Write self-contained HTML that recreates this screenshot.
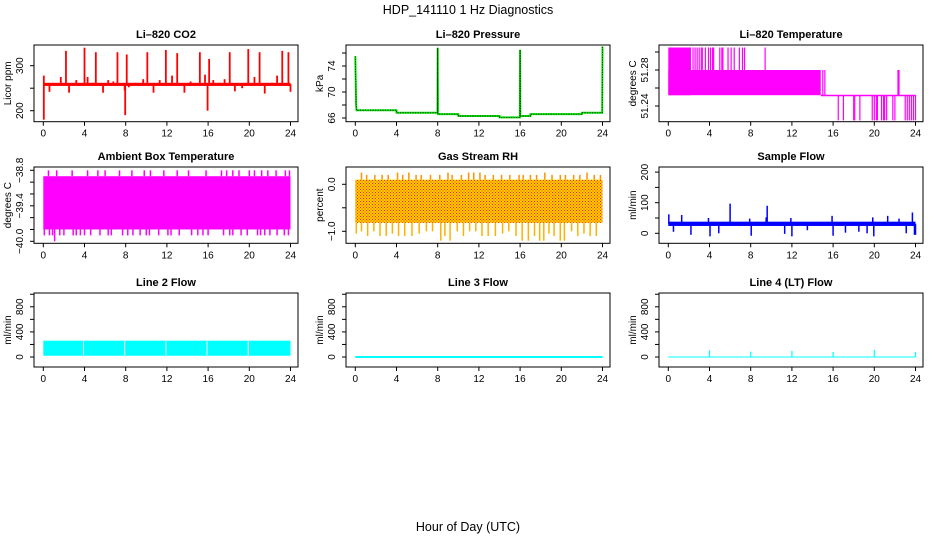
<!DOCTYPE html>
<html><head><meta charset="utf-8"><style>
html,body{margin:0;padding:0;background:#fff;}
svg{display:block;font-family:"Liberation Sans",sans-serif;}
</style></head><body>
<svg id="chart" width="936" height="540" viewBox="0 0 936 540" xmlns="http://www.w3.org/2000/svg">
<defs>
<pattern id="rhpat" width="3" height="3" patternUnits="userSpaceOnUse">
<rect width="3" height="3" fill="#ffd000"/><rect x="0" y="0" width="1" height="1" fill="#ff2000"/><rect x="1.5" y="1.5" width="1" height="1" fill="#ff2000"/>
</pattern>
</defs>
<text x="468" y="14" font-size="12.5" text-anchor="middle">HDP_141110  1 Hz Diagnostics</text>
<text x="468" y="531" font-size="12.5" text-anchor="middle">Hour of Day (UTC)</text>
</svg>
<script>
// ---- data ----
const hourTicks = [0,4,8,12,16,20,24];
// CO2
const co2Base = [255, 262];
const co2SpikeHours = [0.05,0.05,0.6,1.7,2.2,2.5,3.2,3.5,4.0,4.3,4.8,5.1,5.8,6.3,6.8,7.2,7.9,7.95,8.1,8.3,9.0,9.7,10.1,10.7,11.3,11.9,12.5,13.0,13.7,14.3,14.8,15.2,15.7,15.95,16.1,16.5,17.2,17.6,18.1,18.6,19.3,19.9,20.5,21.0,21.5,22.2,22.7,23.2,23.8,24.0];
const co2SpikeValues = [180,278,242,275,333,240,268,255,340,275,262,330,240,268,265,330,245,190,325,252,262,270,330,240,268,335,278,328,240,265,258,330,280,200,315,268,262,270,330,243,250,337,275,330,238,262,278,333,330,242];
// Pressure
const presHours = [0,0.05,0.08,0.12,0.15,4,4.01,7.98,8.0,8.02,10,10.01,14,14.01,15.98,16.0,16.02,17,17.01,22,22.01,23.97,24.0];
const presValues = [75.5,71,68,67.2,67.2,67.2,66.8,66.8,76.8,66.6,66.6,66.3,66.3,66.1,66.1,76.5,66.3,66.3,66.6,66.6,66.8,66.8,77];
// Li-820 temperature
const tempBands = [[0,14.8,51.252,51.28],[0,2.2,51.252,51.305],[14.8,24,51.252,51.2525]];
const tempUpHours = [2.4,2.6,2.8,3.0,3.2,3.3,3.6,3.9,4.1,4.3,4.4,5.0,5.2,5.3,5.8,6.1,6.4,6.9,7.2,7.4,9.4];
const tempMidHours = [15.0,15.2,22.3,22.4];
const tempDownHours = [16.5,17.0,18.0,18.1,18.6,19.8,20.0,20.2,20.3,20.7,20.9,21.0,21.2,21.8,22.0,23.0,23.2,23.4,23.6,23.8,24.0];
// Ambient box temperature
const ambBand = [-39.8, -38.9];
const ambUpHours = [0.5,1.3,2.8,4.3,5.3,6.0,7.4,8.6,9.8,10.4,11.7,13.0,14.1,15.8,17.3,17.8,18.4,19.0,20.0,20.5,21.2,21.8,22.6,23.5,23.9];
const ambDownHours = [0.1,0.6,0.9,1.6,2.0,2.9,3.2,3.6,4.0,4.6,5.5,6.3,6.6,7.7,8.2,8.7,9.4,10.0,10.3,11.2,12.1,12.4,13.2,14.4,15.0,15.5,16.0,17.5,18.1,18.4,19.2,19.8,20.8,21.1,21.5,22.0,22.7,23.4,23.8];
const ambLowHours = [1.1];
// Gas stream RH
const rhBand = [-0.82, 0.1];
const rhUpHours = [0.6,1.1,1.9,2.6,3.2,4.1,4.6,5.2,5.9,6.4,7.3,8.2,9.0,9.4,10.3,11.0,11.5,12.1,12.6,13.4,14.2,15.0,15.9,16.3,17.0,17.6,18.4,19.1,19.9,20.4,21.2,21.8,22.5,23.2,23.8];
const rhUpValues = [0.25,0.2,0.2,0.2,0.2,0.25,0.2,0.25,0.2,0.2,0.2,0.2,0.25,0.2,0.2,0.25,0.25,0.25,0.2,0.2,0.2,0.2,0.2,0.2,0.2,0.2,0.25,0.2,0.2,0.2,0.2,0.2,0.25,0.2,0.2];
const rhDownHours = [0.1,0.6,1.2,1.8,2.4,3.0,3.6,4.2,4.8,5.5,6.2,6.9,7.5,8.3,8.7,9.2,9.9,10.5,11.1,11.7,12.3,12.9,13.6,14.3,14.9,15.6,16.2,16.8,17.4,17.9,18.3,18.8,19.3,19.9,20.3,21.0,21.6,22.2,22.8,23.4];
const rhDownValues = [-1.05,-1.0,-1.1,-1.0,-1.1,-1.1,-1.05,-1.1,-1.1,-1.1,-1.05,-1.0,-1.0,-1.2,-1.1,-1.2,-1.0,-1.1,-1.0,-1.0,-1.1,-1.1,-1.1,-1.05,-1.0,-1.1,-1.2,-1.2,-1.1,-1.2,-1.2,-1.05,-1.1,-1.2,-1.2,-1.0,-1.1,-1.05,-1.1,-1.1];
// Sample flow
const sfBand = [24, 38];
const sfSpikeHours = [0.05,0.5,1.3,2.2,3.9,4.05,4.9,6.0,7.9,8.05,9.5,9.6,11.3,11.9,12.0,13.5,15.9,16.0,17.2,18.5,19.3,19.85,19.95,21.3,22.4,23.1,23.7,23.9,24.0];
const sfSpikeValues = [62,5,60,-5,50,-10,0,97,48,-8,52,90,-2,50,-10,10,57,-8,2,5,0,52,-10,57,48,0,68,-5,-5];
// Line 2 flow
const l2Band = [20, 260];
const l2GapHours = [4,8,12,16,20];
// Line 3 flow
const l3Hours = [0, 24];
const l3Values = [0, 0];
// Line 4 flow
const l4SpikeHours = [4,8,12,16,20,24];
const l4SpikeValues = [105,85,100,80,115,80];

// ---- layout ----
const NS = "http://www.w3.org/2000/svg";
const svg = document.getElementById('chart');
const cols = [34, 346, 659];
const rows = [[45,121.7],[167,243.3],[293,367]];
function mk(tag, attrs, parent){ const e=document.createElementNS(NS,tag); for(const k in attrs) e.setAttribute(k,attrs[k]); (parent||svg).appendChild(e); return e; }
function xScale(L){ return h => L + 9.3 + h*10.3; }
function yLin(y1,v1,y2,v2){ return v => y1 + (v-v1)*(y2-y1)/(v2-v1); }

function panel(ci, ri, title, ylab, sy, ticks, labels, name){
  const L=cols[ci], R=L+264, T=rows[ri][0], B=rows[ri][1];
  const g = mk('g',{});
  
  
  const sx = xScale(L);
  const plot = mk('g',{}, g);
  
  
  const axes = mk('g',{}, g);
  const box = mk('rect',{x:L,y:T,width:R-L,height:B-T,fill:'none',stroke:'#000','stroke-width':1}, axes);
  
  
  hourTicks.forEach(h=>{
    const x=sx(h);
    mk('line',{x1:x,x2:x,y1:B,y2:B+4,stroke:'#000'}, axes);
    const t=mk('text',{x:x,y:B+15,'font-size':10,'text-anchor':'middle'}, axes);
    t.textContent=h;
    
    
  });
  ticks.forEach((v,i)=>{
    const y=sy(v);
    mk('line',{x1:L-4,x2:L,y1:y,y2:y,stroke:'#000'}, axes);
    if(labels[i]!==''){
      const t=mk('text',{x:0,y:0,'font-size':10,'text-anchor':'middle',transform:`translate(${L-11},${y}) rotate(-90)`}, axes);
      t.textContent=labels[i];
      
      
    }
  });
  const tt=mk('text',{x:(L+R)/2,y:T-7,'font-size':11,'font-weight':'bold','text-anchor':'middle'}, axes);
  tt.textContent=title;
  
  
  const yl=mk('text',{x:0,y:0,'font-size':10,'text-anchor':'middle',transform:`translate(${L-23},${(T+B)/2}) rotate(-90)`}, axes);
  yl.textContent=ylab;
  
  
  return {sx, sy, g:plot};
}
function vline(p, h, v1, v2, color, w){
  const x=p.sx(h);
  return mk('line',{x1:x,x2:x,y1:p.sy(v1),y2:p.sy(v2),stroke:color,'stroke-width':w||1.2}, p.g);
}
function band(p, h1, h2, v1, v2, fill){
  const a=p.sy(v1), b=p.sy(v2);
  return mk('rect',{x:p.sx(h1),y:Math.min(a,b),width:p.sx(h2)-p.sx(h1),height:Math.max(Math.abs(a-b),1.5),fill:fill}, p.g);
}

// CO2
const pCO2 = panel(0,0,'Li\u2013820 CO2','Licor ppm', yLin(65.7,300,110.7,200), [200,250,300], ['200','','300'], 'co2');
band(pCO2, 0, 24, co2Base[0], co2Base[1], '#ff0000');
co2SpikeHours.forEach((h,i)=>{ const e=vline(pCO2,h,259,co2SpikeValues[i],'#ff0000',1.8);  });

// Pressure
const pP = panel(1,0,'Li\u2013820 Pressure','kPa', yLin(92,70,118,66), [66,68,70,72,74,76], ['66','','70','','74',''], 'pressure');
const ppts = presHours.map((h,i)=>pP.sx(h)+','+pP.sy(presValues[i])).join(' ');
const pl = mk('polyline',{points:ppts,fill:'none',stroke:'#00e000','stroke-width':2}, pP.g);

const pl2 = mk('polyline',{points:ppts,fill:'none',stroke:'#000','stroke-width':0.8,'stroke-dasharray':'1,1.5'}, pP.g);


// Li-820 temperature
const pT = panel(2,0,'Li\u2013820 Temperature','degrees C', yLin(70,51.28,106,51.24), [51.24,51.26,51.28,51.30], ['51.24','','51.28',''], 'li820-temp');
tempBands.forEach(b=>{ const e=band(pT,b[0],b[1],b[2],b[3],'#ff00ff');  });
tempUpHours.forEach(h=>{ const e=vline(pT,h,51.28,51.305,'#ff00ff',1.2);  });
tempMidHours.forEach(h=>{ const e=vline(pT,h,51.252,51.28,'#ff00ff',1.2);  });
tempDownHours.forEach(h=>{ const e=vline(pT,h,51.252,51.224,'#ff00ff',1.2);  });

// Ambient
const pA = panel(0,1,'Ambient Box Temperature','degrees C', yLin(170.3,-38.8,241.3,-40.0), [-40,-39.8,-39.6,-39.4,-39.2,-39,-38.8], ['\u221240.0','','','\u221239.4','','','\u221238.8'], 'ambient-temp');
band(pA, 0, 24, ambBand[0], ambBand[1], '#ff00ff');
ambUpHours.forEach(h=>{ const e=vline(pA,h,-38.9,-38.8,'#ff00ff',1.5);  });
ambDownHours.forEach(h=>{ const e=vline(pA,h,-39.8,-39.9,'#ff00ff',1.5);  });
ambLowHours.forEach(h=>{ const e=vline(pA,h,-39.8,-40.0,'#ff00ff',1.5);  });

// Gas stream RH
const pR = panel(1,1,'Gas Stream RH','percent', yLin(184.3,0,231.3,-1.0), [-1.0,-0.5,0.0], ['\u22121.0','','0.0'], 'gas-rh');
band(pR, 0, 24, rhBand[0], rhBand[1], 'url(#rhpat)');
rhUpHours.forEach((h,i)=>{ const e=vline(pR,h,0.1,rhUpValues[i],'#ff9000',1.5);  });
rhDownHours.forEach((h,i)=>{ const e=vline(pR,h,-0.82,rhDownValues[i],'#ffb000',1.5);  });

// Sample flow
const pS = panel(2,1,'Sample Flow','ml/min', yLin(233.3,0,202.7,100), [0,50,100,150,200], ['0','','100','','200'], 'sample-flow');
band(pS, 0, 24, sfBand[0], sfBand[1], '#0000ff');
sfSpikeHours.forEach((h,i)=>{ const e=vline(pS,h,31,sfSpikeValues[i],'#0000ff',1.5);  });

// Line 2
const yFlow = yLin(357,0,306.8,800);
const fT=[0,200,400,600,800,1000], fL=['0','','400','','800',''];
const p2 = panel(0,2,'Line 2 Flow','ml/min', yFlow, fT, fL, 'line2-flow');
band(p2, 0, 24, l2Band[0], l2Band[1], '#00ffff');
l2GapHours.forEach(h=>{ const e=vline(p2,h-0.1,l2Band[0]+5,l2Band[1]-5,'#ffffff',1);  });

// Line 3
const p3 = panel(1,2,'Line 3 Flow','ml/min', yFlow, fT, fL, 'line3-flow');
const l3 = mk('polyline',{points:l3Hours.map((h,i)=>p3.sx(h)+','+p3.sy(l3Values[i])).join(' '),fill:'none',stroke:'#00ffff','stroke-width':2}, p3.g);


// Line 4
const p4 = panel(2,2,'Line 4 (LT) Flow','ml/min', yFlow, fT, fL, 'line4-flow');
const l4 = mk('line',{x1:p4.sx(0),x2:p4.sx(24),y1:p4.sy(0),y2:p4.sy(0),stroke:'#00ffff','stroke-width':1}, p4.g);

l4SpikeHours.forEach((h,i)=>{ const e=vline(p4,h,0,l4SpikeValues[i],'#00ffff',1.2);  });
</script>
</body></html>
